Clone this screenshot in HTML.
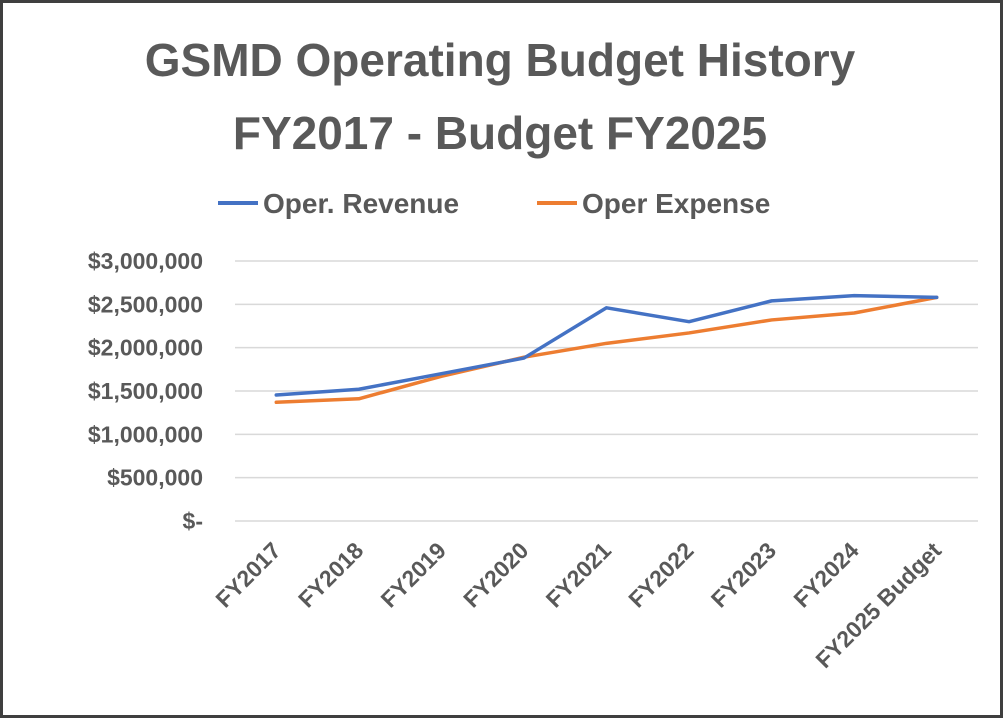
<!DOCTYPE html>
<html><head><meta charset="utf-8"><style>
html,body{margin:0;padding:0;background:#fff;}
svg{display:block;font-family:"Liberation Sans",Arial,sans-serif;}
</style></head><body>
<svg width="1003" height="718" viewBox="0 0 1003 718">
<rect x="1.5" y="1.5" width="1000" height="715" fill="#fff" stroke="#3f3f3f" stroke-width="3"/>
<text x="500" y="76" text-anchor="middle" font-size="46" font-weight="bold" fill="#595959">GSMD Operating Budget History</text>
<text x="500" y="149" text-anchor="middle" font-size="46" font-weight="bold" fill="#595959">FY2017 - Budget FY2025</text>
<g>
<g><line x1="218" y1="203" x2="258" y2="203" stroke="#4472c4" stroke-width="4"/><text x="263" y="213" font-size="28" font-weight="bold" fill="#595959">Oper. Revenue</text></g>
<g><line x1="537" y1="203" x2="577" y2="203" stroke="#ed7d31" stroke-width="4"/><text x="582" y="213" font-size="28" font-weight="bold" fill="#595959">Oper Expense</text></g>
</g>
<g id="grid"></g>
<g id="ylabels"></g>
<g id="xlabels"></g>
<g id="series"></g>
</svg>
<script>
const categories=["FY2017","FY2018","FY2019","FY2020","FY2021","FY2022","FY2023","FY2024","FY2025 Budget"];
const revenue=[1454000,1520000,1700000,1880000,2460000,2300000,2540000,2600000,2580000];
const expense=[1370000,1410000,1670000,1890000,2050000,2170000,2320000,2400000,2580000];
const yTicks=[0,500000,1000000,1500000,2000000,2500000,3000000];
const yTickLabels=["$-","$500,000","$1,000,000","$1,500,000","$2,000,000","$2,500,000","$3,000,000"];
const NS="http://www.w3.org/2000/svg";
const x0=235,x1=978,yBase=521,yTop=261,yMax=3000000;
const step=(x1-x0)/categories.length;
function xs(i){return x0+step*(i+0.5);}
function ys(v){return yBase-(v/yMax)*(yBase-yTop);}
function mk(t,a,p){const e=document.createElementNS(NS,t);for(const k in a)e.setAttribute(k,a[k]);p.appendChild(e);return e;}
const grid=document.getElementById('grid'),yl=document.getElementById('ylabels'),xl=document.getElementById('xlabels'),ser=document.getElementById('series');
yTicks.forEach((v,i)=>{
 const l=mk('line',{x1:x0,x2:x1,y1:ys(v),y2:ys(v),stroke:'#d9d9d9','stroke-width':1.5},grid);
 
 
 const t=mk('text',{x:203,y:ys(v)+8,'text-anchor':'end','font-size':23,'font-weight':'bold',fill:'#595959'},yl);
 t.textContent=yTickLabels[i];
 
 
});
categories.forEach((c,i)=>{
 const x=xs(i)+6,y=552;
 const t=mk('text',{x:x,y:y,'text-anchor':'end','font-size':23,'font-weight':'bold',fill:'#595959',transform:`rotate(-45 ${x} ${y})`},xl);
 t.textContent=c;
 
 
});
function line(vals,color,name){
 const d=vals.map((v,i)=>(i?'L':'M')+xs(i)+' '+ys(v)).join(' ');
 const p=mk('path',{d:d,fill:'none',stroke:color,'stroke-width':3.5,'stroke-linejoin':'round','stroke-linecap':'round'},ser);
 
 
}
line(expense,'#ed7d31','expense-line');
line(revenue,'#4472c4','revenue-line');
</script>
</body></html>
